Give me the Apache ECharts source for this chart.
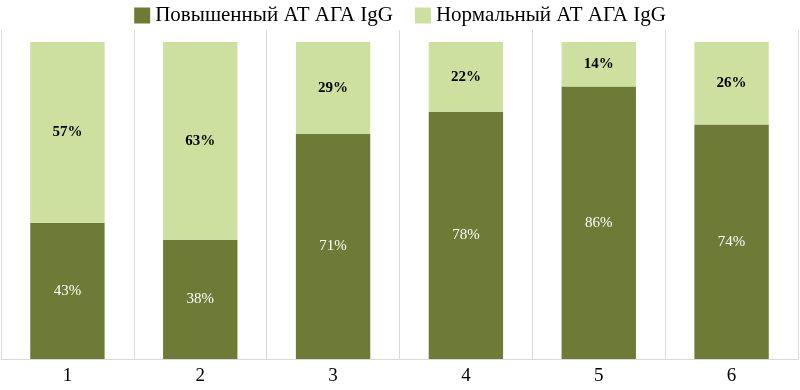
<!DOCTYPE html>
<html><head><meta charset="utf-8">
<script src="https://cdn.jsdelivr.net/npm/echarts@6/dist/echarts.min.js"></script>
<style>html,body{margin:0;padding:0;background:#fff}#c{width:800px;height:390px}</style>
</head><body><div id="c"></div>
<script>
const categories = ['1','2','3','4','5','6'];
const elevated = [43, 38, 71, 78, 86, 74];
const normal = [57, 63, 29, 22, 14, 26];
const seriesNames = ['Повышенный АТ АГА IgG', 'Нормальный АТ АГА IgG'];

const totals = elevated.map((v, i) => v + normal[i]);
const share = (arr) => arr.map((v, i) => ({ value: v / totals[i] * 100, raw: v }));

const font = '"Liberation Serif", "DejaVu Serif", serif';
const chart = echarts.init(document.getElementById('c'));
chart.setOption({
  animation: false,
  legend: {
    top: 0, left: 'center', itemWidth: 16, itemHeight: 16, itemGap: 22,
    textStyle: { fontFamily: font, fontSize: 21, color: '#000' },
    icon: 'rect'
  },
  grid: { left: 1, right: 2, top: 30, bottom: 31 },
  xAxis: {
    type: 'category', data: categories,
    axisTick: { show: false },
    axisLine: { lineStyle: { color: '#d9d9d9' } },
    axisLabel: { fontFamily: font, fontSize: 19, color: '#000', margin: 8 },
    splitLine: { show: true, lineStyle: { color: '#d9d9d9' } }
  },
  yAxis: { type: 'value', min: 0, max: 103.8, show: false, splitLine: { show: false } },
  series: [
    {
      name: seriesNames[0], type: 'bar', stack: 's', barWidth: '56%',
      data: share(elevated),
      itemStyle: { color: '#6e7b37' },
      label: { show: true, position: 'inside', formatter: p => p.data.raw + '%',
        fontFamily: font, fontSize: 15, color: '#fff' }
    },
    {
      name: seriesNames[1], type: 'bar', stack: 's', barWidth: '56%',
      data: share(normal),
      itemStyle: { color: '#cde0a0' },
      label: { show: true, position: 'inside', formatter: p => p.data.raw + '%',
        fontFamily: font, fontSize: 15, fontWeight: 'bold', color: '#000' }
    }
  ]
});
</script></body></html>
